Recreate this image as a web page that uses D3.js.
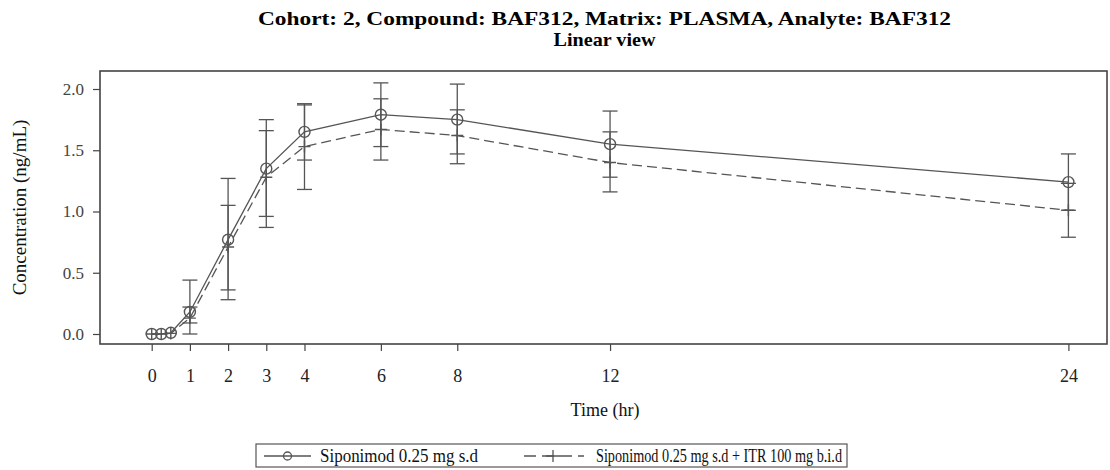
<!DOCTYPE html>
<html>
<head>
<meta charset="utf-8">
<script src="https://cdn.jsdelivr.net/npm/d3@7/dist/d3.min.js"></script>
<style>
  html, body { margin: 0; padding: 0; background: #fff; }
  svg { display: block; }
  text { font-family: "Liberation Serif", "Times New Roman", serif; }
</style>
</head>
<body>
<script>
// ---- data ----
const titleLines = ["Cohort: 2, Compound: BAF312, Matrix: PLASMA, Analyte: BAF312", "Linear view"];
const xLabel = "Time (hr)";
const yLabel = "Concentration (ng/mL)";
const xTicks = [0, 1, 2, 3, 4, 6, 8, 12, 24];
const yTicks = [0.0, 0.5, 1.0, 1.5, 2.0];
const seriesNames = ["Siponimod 0.25 mg s.d", "Siponimod 0.25 mg s.d + ITR 100 mg b.i.d"];

const times1 = [0, 0.25, 0.5, 1, 2, 3, 4, 6, 8, 12, 24];
const mean1  = [0, 0, 0.01, 0.18, 0.77, 1.35, 1.65, 1.79, 1.75, 1.55, 1.24];
const upper1 = [null, null, null, 0.44, 1.27, 1.75, 1.88, 2.05, 2.04, 1.82, 1.47];
const lower1 = [null, null, null, 0.00, 0.28, 0.96, 1.42, 1.53, 1.47, 1.28, 1.01];

const times2 = [0, 0.25, 0.5, 1, 2, 3, 4, 6, 8, 12, 24];
const mean2  = [0, 0, 0.005, 0.13, 0.71, 1.28, 1.53, 1.67, 1.62, 1.40, 1.01];
const upper2 = [null, null, null, 0.22, 1.05, 1.66, 1.87, 1.92, 1.83, 1.65, 1.23];
const lower2 = [null, null, null, 0.09, 0.36, 0.87, 1.18, 1.42, 1.39, 1.16, 0.79];

// ---- layout ----
const W = 1110, H = 470;
const plot = { left: 100, right: 1107, top: 71, bottom: 344 };
const ink = "#555";

const svg = d3.select("body").append("svg").attr("width", W).attr("height", H);

const x = d3.scaleLinear().domain([0, 24]).range([151.7, 1068.4]);
const y = d3.scaleLinear().domain([0, 2]).range([334, 89]);

// title
svg.append("text").attr("x", 604.5).attr("y", 25)
  .attr("text-anchor", "middle").attr("font-weight", "bold").attr("font-size", 19).attr("fill", "#000")
  .attr("textLength", 693).attr("lengthAdjust", "spacingAndGlyphs")
  .text(titleLines[0]);
svg.append("text").attr("x", 604.5).attr("y", 46)
  .attr("text-anchor", "middle").attr("font-weight", "bold").attr("font-size", 19).attr("fill", "#000")
  .attr("textLength", 102).attr("lengthAdjust", "spacingAndGlyphs")
  .text(titleLines[1]);

// axes
const xAxis = d3.axisBottom(x).tickValues(xTicks).tickFormat(d3.format("d")).tickSize(7).tickPadding(18);
const gx = svg.append("g").attr("transform", `translate(0,${plot.bottom})`).call(xAxis);
gx.select(".domain").remove();
gx.selectAll(".tick line").attr("stroke", "#444").attr("stroke-width", 1.2);
gx.selectAll(".tick text").attr("font-family", "Liberation Serif, serif").attr("font-size", 18).attr("fill", "#222");

const yAxis = d3.axisLeft(y).tickValues(yTicks).tickFormat(d3.format(".1f")).tickSize(7).tickPadding(9);
const gy = svg.append("g").attr("transform", `translate(${plot.left},0)`).call(yAxis);
gy.select(".domain").remove();
gy.selectAll(".tick line").attr("stroke", "#444").attr("stroke-width", 1.2);
gy.selectAll(".tick text").attr("font-family", "DejaVu Serif, serif").attr("font-size", 17).attr("fill", "#444");

// frame
svg.append("rect").attr("x", plot.left).attr("y", plot.top)
  .attr("width", plot.right - plot.left).attr("height", plot.bottom - plot.top)
  .attr("fill", "none").attr("stroke", "#444").attr("stroke-width", 1.6);

// axis labels
svg.append("text").attr("x", 605).attr("y", 416)
  .attr("text-anchor", "middle").attr("font-size", 18).attr("fill", "#111").text(xLabel);
svg.append("text").attr("transform", `translate(26,${(plot.top + plot.bottom) / 2}) rotate(-90)`)
  .attr("text-anchor", "middle").attr("font-size", 19).attr("fill", "#111").text(yLabel);

// series
function drawSeries(times, mean, upper, lower, dashed, marker) {
  const g = svg.append("g");
  const pts = times.map((t, i) => ({ t, m: mean[i], u: upper[i], l: lower[i] }));
  // error bars
  pts.filter(p => p.u !== null).forEach(p => {
    const cx = x(p.t);
    g.append("line").attr("x1", cx).attr("x2", cx).attr("y1", y(p.u)).attr("y2", y(p.l))
      .attr("stroke", ink).attr("stroke-width", 1.3);
    [p.u, p.l].forEach(v => {
      g.append("line").attr("x1", cx - 7.5).attr("x2", cx + 7.5).attr("y1", y(v)).attr("y2", y(v))
        .attr("stroke", ink).attr("stroke-width", 1.3);
    });
  });
  // line
  g.append("path").datum(pts)
    .attr("d", d3.line().x(p => x(p.t)).y(p => y(p.m)))
    .attr("fill", "none").attr("stroke", ink).attr("stroke-width", 1.3)
    .attr("stroke-dasharray", dashed ? "10,5" : null);
  // markers
  pts.forEach(p => {
    const cx = x(p.t), cy = y(p.m);
    if (marker === "circle") {
      g.append("circle").attr("cx", cx).attr("cy", cy).attr("r", 5.5)
        .attr("fill", "none").attr("stroke", ink).attr("stroke-width", 1.4);
    } else {
      g.append("path").attr("d", `M${cx - 6},${cy}H${cx + 6}M${cx},${cy - 6}V${cy + 6}`)
        .attr("stroke", ink).attr("stroke-width", 1.4).attr("fill", "none");
    }
  });
}
drawSeries(times2, mean2, upper2, lower2, true, "plus");
drawSeries(times1, mean1, upper1, lower1, false, "circle");

// legend
const lg = svg.append("g");
lg.append("rect").attr("x", 256).attr("y", 444).attr("width", 591).attr("height", 23)
  .attr("fill", "none").attr("stroke", "#555").attr("stroke-width", 1.2);
const ly = 456;
lg.append("line").attr("x1", 264).attr("x2", 311).attr("y1", ly).attr("y2", ly)
  .attr("stroke", ink).attr("stroke-width", 1.3);
lg.append("circle").attr("cx", 287.5).attr("cy", ly).attr("r", 4)
  .attr("fill", "none").attr("stroke", ink).attr("stroke-width", 1.3);
lg.append("text").attr("x", 320).attr("y", ly + 6).attr("font-size", 18).attr("fill", "#111")
  .attr("textLength", 158).attr("lengthAdjust", "spacingAndGlyphs").text(seriesNames[0]);
lg.append("line").attr("x1", 524).attr("x2", 584).attr("y1", ly).attr("y2", ly)
  .attr("stroke", ink).attr("stroke-width", 1.3).attr("stroke-dasharray", "12,6");
lg.append("path").attr("d", `M${546},${ly}H${560}M${553},${ly - 6}V${ly + 6}`)
  .attr("stroke", ink).attr("stroke-width", 1.3);
lg.append("text").attr("x", 596).attr("y", ly + 6).attr("font-size", 18).attr("fill", "#111")
  .attr("textLength", 246).attr("lengthAdjust", "spacingAndGlyphs").text(seriesNames[1]);
</script>
</body>
</html>
